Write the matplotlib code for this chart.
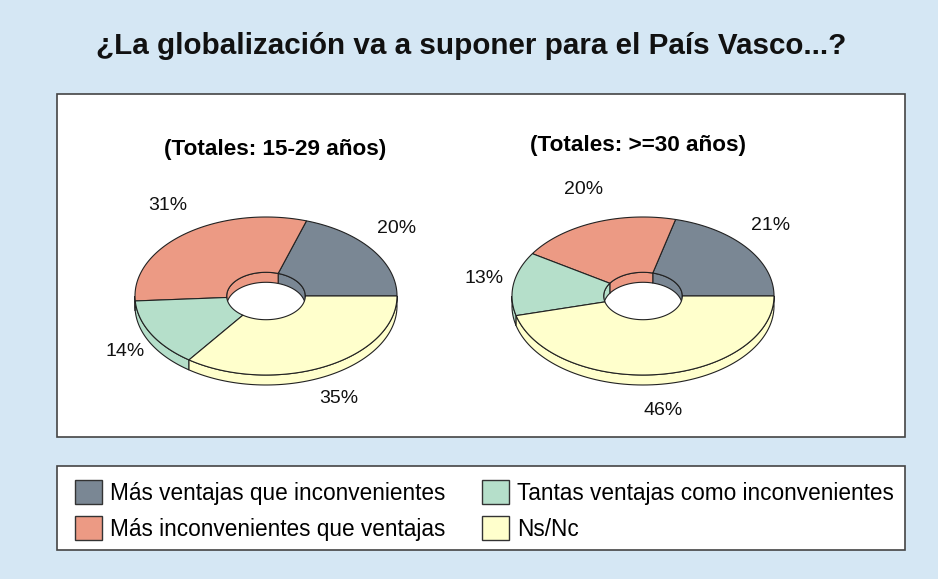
import numpy as np
import matplotlib
matplotlib.use("Agg")
import matplotlib.pyplot as plt
from matplotlib.patches import Polygon, Rectangle, Patch

plt.rcParams['font.family'] = ['Liberation Sans', 'DejaVu Sans']

# data
categories = ['Más ventajas que inconvenientes', 'Más inconvenientes que ventajas',
              'Tantas ventajas como inconvenientes', 'Ns/Nc']
jovenes = [20, 31, 14, 35]      # 15-29 años
mayores = [21, 20, 13, 46]      # >=30 años
titles = ['(Totales: 15-29 años)', '(Totales: >=30 años)']
colors = ['#7a8794', '#ec9a84', '#b5dfca', '#ffffcc']

W, H = 938, 579
BG = '#d5e7f4'


def ell(cx, cy, a, b, t):
    return cx + a * np.cos(t), cy - b * np.sin(t)


def donut3d(ax, cx, cy, values, a=131, b=79, hole=0.3, depth=10):
    ai, bi = a * hole, b * hole
    vals = np.asarray(values, dtype=float)
    edges = np.concatenate([[0], np.cumsum(vals / vals.sum())]) * 360
    for v, t1, t2, c in zip(vals, edges[:-1], edges[1:], colors):
        # outer wall, only the front half shows
        lo, hi = max(t1, 180), min(t2, 360)
        if hi > lo:
            t = np.radians(np.linspace(lo, hi, 80))
            x, y = ell(cx, cy, a, b, t)
            pts = np.r_[np.c_[x, y], np.c_[x, y + depth][::-1]]
            ax.add_patch(Polygon(pts, fc=c, ec='#222222', lw=0.8, zorder=2))
        # inner wall of the hole, only the back half shows
        lo, hi = max(t1, 0), min(t2, 180)
        if hi > lo:
            t = np.radians(np.linspace(lo, hi, 60))
            x, y = ell(cx, cy, ai, bi, t)
            pts = np.r_[np.c_[x, y], np.c_[x, y + depth][::-1]]
            ax.add_patch(Polygon(pts, fc=c, ec='#222222', lw=0.8, zorder=2))
        # top face
        t = np.radians(np.linspace(t1, t2, 120))
        xo, yo = ell(cx, cy, a, b, t)
        xi, yi = ell(cx, cy, ai, bi, t[::-1])
        pts = np.r_[np.c_[xo, yo], np.c_[xi, yi]]
        ax.add_patch(Polygon(pts, fc=c, ec='#222222', lw=0.8, zorder=3))
        # percentage label
        m = np.radians((t1 + t2) / 2)
        lx, ly = ell(cx, cy, a + 30, b + 36, m)
        ax.text(lx, ly, f'{v:.0f}%', ha='center', va='center', fontsize=14,
                color='#111111', zorder=4)


fig = plt.figure(figsize=(W / 100, H / 100), dpi=100, facecolor=BG)
ax = fig.add_axes([0, 0, 1, 1])
ax.set_xlim(0, W)
ax.set_ylim(H, 0)
ax.axis('off')

ax.text(471, 46, '¿La globalización va a suponer para el País Vasco...?',
        ha='center', va='center', fontsize=21.3, fontweight='bold', color='#111111')

# plot area and legend frames
ax.add_patch(Rectangle((57, 94), 848, 343, fc='white', ec='#444444', lw=1.2, zorder=1))
ax.add_patch(Rectangle((57, 466), 848, 84, fc='white', ec='#444444', lw=1.2, zorder=1))

ax.text(275, 149, titles[0], ha='center', va='center', fontsize=16.2, fontweight='bold')
ax.text(638, 145, titles[1], ha='center', va='center', fontsize=16.2, fontweight='bold')

donut3d(ax, 266, 296, jovenes)
donut3d(ax, 643, 296, mayores)

handles = [Patch(fc=c, ec='#333333', lw=1) for c in colors]
ax.legend(handles, categories, ncol=2, loc='upper left',
          bbox_to_anchor=(66 / W, 1 - 471 / H), frameon=False, fontsize=16.3,
          handlelength=1.2, handleheight=1.25, handletextpad=0.35,
          labelspacing=0.5, columnspacing=1.6, borderaxespad=0)

fig.savefig('out.png', dpi=100, facecolor=BG)
